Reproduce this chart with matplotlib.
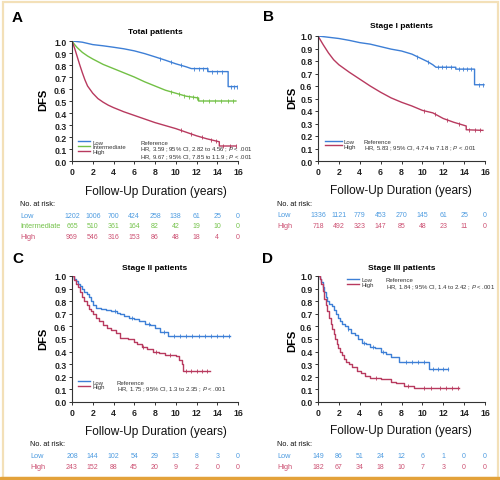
import numpy as np
import matplotlib
matplotlib.use("Agg")
import matplotlib.pyplot as plt
from matplotlib.lines import Line2D
from matplotlib.patches import Rectangle
from matplotlib.transforms import blended_transform_factory

W, H = 500, 481
plt.rcParams['font.family'] = ['Liberation Sans', 'DejaVu Sans']
plt.rcParams['mathtext.fontset'] = 'custom'
plt.rcParams['mathtext.it'] = 'Liberation Sans:italic'
plt.rcParams['mathtext.rm'] = 'Liberation Sans'

BLUE, GREEN, RED = '#3d7fd6', '#72c045', '#b83a5f'
BLUE_T, GREEN_T, RED_T = '#4d9be0', '#74c24a', '#cc5072'

# =====================================================
# data
# =====================================================
# A: total patients
A_low_t = [0, 0.5, 1, 2, 3, 4, 5, 6, 7, 8, 9, 10, 11, 11.5, 13.1, 13.1, 15.05, 15.05, 15.9]
A_low_s = [1.0, 0.995, 0.99, 0.97, 0.96, 0.948, 0.935, 0.918, 0.895, 0.868, 0.84, 0.81, 0.785, 0.77, 0.77, 0.745, 0.745, 0.62, 0.62]
A_int_t = [0, 0.25, 0.5, 1, 1.5, 2, 3, 4, 5, 6, 7, 8, 9, 10, 11, 12.2, 12.2, 15.8]
A_int_s = [1.0, 0.97, 0.945, 0.905, 0.875, 0.85, 0.805, 0.77, 0.735, 0.70, 0.66, 0.625, 0.59, 0.565, 0.54, 0.525, 0.50, 0.50]
A_high_t = [0, 0.25, 0.5, 0.75, 1, 1.25, 1.5, 2, 2.5, 3, 3.5, 4, 5, 6, 7, 8, 9, 10, 11, 12, 13, 14.2, 14.2, 15.8]
A_high_s = [1.0, 0.94, 0.87, 0.80, 0.735, 0.675, 0.625, 0.565, 0.52, 0.49, 0.465, 0.445, 0.41, 0.38, 0.35, 0.32, 0.295, 0.27, 0.24, 0.21, 0.185, 0.16, 0.125, 0.125]
A_low_cens = [8.5, 9.5, 10.5, 11.8, 12.2, 12.6, 13.0, 13.5, 14.0, 14.5, 15.3, 15.6, 15.9]
A_int_cens = [9.5, 10.3, 10.8, 11.3, 11.7, 12.0, 12.6, 13.2, 13.8, 14.4, 15.0, 15.5]
A_high_cens = [10.5, 11.5, 12.5, 13.4, 13.9, 14.6, 15.2, 15.8]

# B: stage I
B_low_t = [0, 1, 2, 3, 4, 5, 6, 7, 8, 9, 10, 10.5, 11, 11.3, 13.2, 13.2, 15.0, 15.0, 15.9]
B_low_s = [1.0, 0.99, 0.98, 0.965, 0.947, 0.935, 0.915, 0.895, 0.88, 0.855, 0.815, 0.795, 0.77, 0.75, 0.75, 0.735, 0.735, 0.61, 0.61]
B_high_t = [0, 0.25, 0.5, 1, 1.5, 2, 3, 4, 5, 6, 7, 8, 9, 10, 11, 12, 13, 14.2, 14.2, 15.8]
B_high_s = [1.0, 0.965, 0.93, 0.865, 0.81, 0.77, 0.71, 0.655, 0.60, 0.55, 0.505, 0.47, 0.44, 0.405, 0.385, 0.34, 0.31, 0.28, 0.25, 0.245]
B_low_cens = [9.5, 10.5, 11.5, 11.9, 12.3, 12.7, 13.5, 13.9, 14.3, 14.7, 15.4, 15.8]
B_high_cens = [10.2, 11.2, 12.4, 13.5, 14.5, 15.0, 15.5]

# C: stage II
C_low_t = [0, 0.2, 0.4, 0.6, 0.8, 1.0, 1.2, 1.4, 1.6, 1.8, 2.0, 2.3, 2.8, 3.3, 3.8, 4.3, 4.6, 5.0, 5.5, 6.0, 6.5, 7.0, 7.5, 8.0, 8.5, 9.3, 15.2]
C_low_s = [1.0, 0.98, 0.96, 0.94, 0.92, 0.90, 0.875, 0.855, 0.83, 0.80, 0.77, 0.75, 0.74, 0.73, 0.72, 0.71, 0.70, 0.68, 0.67, 0.66, 0.64, 0.62, 0.61, 0.59, 0.555, 0.52, 0.52]
C_high_t = [0, 0.2, 0.4, 0.6, 0.8, 1.0, 1.2, 1.4, 1.6, 1.8, 2.0, 2.3, 2.6, 3.0, 3.4, 3.8, 4.2, 4.6, 5.4, 6.0, 6.3, 6.7, 7.2, 7.8, 8.4, 9.0, 10.0, 10.3, 10.6, 10.7, 13.3]
C_high_s = [1.0, 0.97, 0.94, 0.91, 0.87, 0.83, 0.80, 0.77, 0.74, 0.72, 0.70, 0.67, 0.64, 0.61, 0.59, 0.57, 0.55, 0.51, 0.50, 0.48, 0.46, 0.44, 0.42, 0.40, 0.385, 0.37, 0.365, 0.335, 0.30, 0.25, 0.25]
C_low_cens = [4.1, 5.8, 7.4, 8.9, 9.8, 10.4, 11.0, 11.6, 12.2, 12.8, 13.4, 14.0, 14.6, 15.1]
C_high_cens = [6.8, 8.1, 9.4, 11.0, 11.5, 12.0, 12.5, 13.0]

# D: stage III
D_low_t = [0, 0.15, 0.3, 0.45, 0.6, 0.75, 0.9, 1.1, 1.3, 1.5, 1.7, 1.9, 2.1, 2.3, 2.6, 2.9, 3.2, 3.5, 3.8, 4.2, 4.6, 5.0, 5.5, 6.0, 6.5, 7.0, 7.8, 10.6, 12.5]
D_low_s = [1.0, 0.98, 0.95, 0.91, 0.87, 0.83, 0.80, 0.78, 0.76, 0.73, 0.70, 0.67, 0.64, 0.62, 0.60, 0.58, 0.55, 0.53, 0.50, 0.47, 0.46, 0.44, 0.43, 0.40, 0.38, 0.36, 0.32, 0.26, 0.26]
D_high_t = [0, 0.15, 0.3, 0.45, 0.6, 0.75, 0.9, 1.05, 1.2, 1.35, 1.5, 1.65, 1.8, 1.95, 2.1, 2.3, 2.5, 2.7, 3.0, 3.3, 3.7, 4.1, 4.5, 5.0, 6.0, 7.0, 7.5, 8.2, 9.2, 13.5]
D_high_s = [1.0, 0.98, 0.94, 0.88, 0.82, 0.77, 0.72, 0.67, 0.62, 0.58, 0.54, 0.50, 0.46, 0.43, 0.40, 0.37, 0.34, 0.32, 0.30, 0.28, 0.25, 0.23, 0.21, 0.19, 0.18, 0.16, 0.15, 0.13, 0.11, 0.11]
D_low_cens = [2.9, 4.4, 5.3, 6.2, 8.4, 9.0, 9.6, 10.2, 11.0, 11.5, 12.0, 12.5]
D_high_cens = [5.6, 8.6, 10.2, 10.8, 11.7, 12.3, 12.8, 13.4]

# numbers at risk
risk_times = [0, 2, 4, 6, 8, 10, 12, 14, 16]
A_risk_low = [1202, 1006, 700, 424, 258, 138, 61, 25, 0]
A_risk_int = [665, 510, 361, 164, 82, 42, 19, 10, 0]
A_risk_high = [969, 546, 316, 153, 86, 48, 18, 4, 0]
B_risk_low = [1336, 1121, 779, 453, 270, 145, 61, 25, 0]
B_risk_high = [718, 492, 323, 147, 85, 48, 23, 11, 0]
C_risk_low = [208, 144, 102, 54, 29, 13, 8, 3, 0]
C_risk_high = [243, 152, 88, 45, 20, 9, 2, 0, 0]
D_risk_low = [149, 86, 51, 24, 12, 6, 1, 0, 0]
D_risk_high = [182, 67, 34, 18, 10, 7, 3, 0, 0]

A_hr = ["Reference",
        r"HR, 3.59 ; 95% CI, 2.82 to 4.56 ; $\mathit{P}$ < .001",
        r"HR, 9.67 ; 95% CI, 7.85 to 11.9 ; $\mathit{P}$ < .001"]
B_hr = ["Reference", r"HR, 5.83 ; 95% CI, 4.74 to 7.18 ; $\mathit{P}$ < .001"]
C_hr = ["Reference", r"HR, 1.75 ; 95% CI, 1.3 to 2.35 ; $\mathit{P}$ < .001"]
D_hr = ["Reference", r"HR, 1.84 ; 95% CI, 1.4 to 2.42 ; $\mathit{P}$ < .001"]


# =====================================================
# helpers
# =====================================================
def box(l, t, r, b):
    return [l / W, 1 - b / H, (r - l) / W, (b - t) / H]


def ftext(x, y, s, **kw):
    fig.text(x / W, 1 - y / H, s, **kw)


def km_value(t, s, x, step):
    if step:
        i = np.searchsorted(t, x, side="right") - 1
        return np.asarray(s)[i]
    return np.interp(x, t, s)


def draw_curves(ax, curves, step):
    for t, s, cens, color in curves:
        if step:
            ax.step(t, s, where="post", color=color, lw=1.0)
        else:
            ax.plot(t, s, color=color, lw=1.0)
        cy = [km_value(t, s, c, step) for c in cens]
        ax.plot(cens, cy, ls="none", marker="|", ms=2.6, mew=0.6, color=color)


def style_axes(ax):
    ax.set_xlim(0, 16)
    ax.set_ylim(0, 1.0)
    ax.set_xticks(range(0, 17, 2))
    ax.set_yticks(np.arange(0, 1.01, 0.1))
    ax.set_yticklabels([f"{v:.1f}" for v in np.arange(0, 1.01, 0.1)])
    for sp in ["top", "right"]:
        ax.spines[sp].set_visible(False)
    for sp in ["left", "bottom"]:
        ax.spines[sp].set_linewidth(0.8)
        ax.spines[sp].set_color("#333333")
    ax.tick_params(direction="out", length=2.5, width=0.7, color="#333333",
                   labelsize=6.3, labelcolor="#222222", pad=1.5)
    for lab in ax.get_xticklabels() + ax.get_yticklabels():
        lab.set_fontweight("bold")


def legends(ax, names, colors, hr, key_x, ref_x, y_top, hlen):
    hs = [Line2D([], [], color=c, lw=1.0) for c in colors]
    kw = dict(frameon=False, fontsize=4.3, borderpad=0, borderaxespad=0,
              labelspacing=-0.05, loc="upper left")
    lg = ax.legend(hs, names, bbox_to_anchor=(key_x, y_top), handlelength=hlen,
                   handletextpad=0.35, **kw)
    for t in lg.get_texts():
        t.set_color("#333333")
    ax.add_artist(lg)
    blanks = [Line2D([], [], lw=0) for _ in hr]
    lg2 = ax.legend(blanks, hr, bbox_to_anchor=(ref_x, y_top), handlelength=0,
                    handletextpad=0, **kw)
    for t in lg2.get_texts():
        t.set_color("#333333")


def at_risk(ax, label_x, head_y, rows):
    ftext(label_x, head_y, "No. at risk:", fontsize=5.3, color="#111111", va="center")
    tr = blended_transform_factory(ax.transData, fig.transFigure)
    for name, vals, color, y in rows:
        ftext(label_x, y, name, fontsize=5.3, color=color, va="center")
        for x, v in zip(risk_times, vals):
            ax.text(x, 1 - y / H, str(v), transform=tr, fontsize=5.0, color=color,
                    ha="center", va="center", clip_on=False)


def labels(ax, letter, lxy, title, title_xy, dfs_xy, xl_xy):
    ftext(*lxy, letter, fontsize=11, fontweight="bold", va="center", ha="left")
    ftext(*title_xy, title, fontsize=6.0, fontweight="bold", ha="center", va="center")
    ftext(*dfs_xy, "DFS", fontsize=8.0, fontweight="bold", rotation=90,
          ha="center", va="center")
    ftext(*xl_xy, "Follow-Up Duration (years)", fontsize=8.6, ha="center",
          va="center", color="#111111")


# =====================================================
# figure
# =====================================================
fig = plt.figure(figsize=(W / 100, H / 100), dpi=100)

# frame
fig.patches.append(Rectangle((2.5 / W, 2.5 / H), 1 - 5 / W, 1 - 5 / H, fill=False,
                             ec="#f3e0b8", lw=1.6, transform=fig.transFigure))
fig.patches.append(Rectangle((0, 0), 1, 3 / H, color="#e3a23a", transform=fig.transFigure))

# ---- A ----
axA = fig.add_axes(box(72, 42, 238, 162))
style_axes(axA)
draw_curves(axA, [(A_low_t, A_low_s, A_low_cens, BLUE),
                  (A_int_t, A_int_s, A_int_cens, GREEN),
                  (A_high_t, A_high_s, A_high_cens, RED)], step=False)
legends(axA, ["Low", "Intermediate", "High"], [BLUE, GREEN, RED], A_hr,
        0.036, 0.41, 0.18, 2.0)
labels(axA, "A", (12, 18), "Total patients", (155, 33), (43, 100), (156, 192))
at_risk(axA, 20, 205, [("Low", A_risk_low, BLUE_T, 216),
                       ("Intermediate", A_risk_int, GREEN_T, 227),
                       ("High", A_risk_high, RED_T, 238)])

# ---- B ----
axB = fig.add_axes(box(318, 37, 485, 162))
style_axes(axB)
draw_curves(axB, [(B_low_t, B_low_s, B_low_cens, BLUE),
                  (B_high_t, B_high_s, B_high_cens, RED)], step=False)
legends(axB, ["Low", "High"], [BLUE, RED], B_hr, 0.042, 0.275, 0.18, 2.8)
labels(axB, "B", (263, 17), "Stage I patients", (402, 27), (292, 98), (401, 191))
at_risk(axB, 277, 205, [("Low", B_risk_low, BLUE_T, 215.5),
                        ("High", B_risk_high, RED_T, 226.5)])

# ---- C ----
axC = fig.add_axes(box(72, 277, 238, 403))
style_axes(axC)
draw_curves(axC, [(C_low_t, C_low_s, C_low_cens, BLUE),
                  (C_high_t, C_high_s, C_high_cens, RED)], step=True)
legends(axC, ["Low", "High"], [BLUE, RED], C_hr, 0.036, 0.27, 0.18, 2.0)
labels(axC, "C", (12, 259), "Stage II patients", (155, 269), (43, 339), (156, 432))
at_risk(axC, 30, 445, [("Low", C_risk_low, BLUE_T, 457),
                       ("High", C_risk_high, RED_T, 468)])

# ---- D ----
axD = fig.add_axes(box(318, 277, 485, 403))
style_axes(axD)
draw_curves(axD, [(D_low_t, D_low_s, D_low_cens, BLUE),
                  (D_high_t, D_high_s, D_high_cens, RED)], step=True)
legends(axD, ["Low", "High"], [BLUE, RED], D_hr, 0.174, 0.407, 0.99, 2.0)
labels(axD, "D", (262, 259), "Stage III patients", (402, 269), (292, 341), (401, 431))
at_risk(axD, 277, 445, [("Low", D_risk_low, BLUE_T, 457),
                        ("High", D_risk_high, RED_T, 468)])

fig.savefig("out.png", dpi=100)
